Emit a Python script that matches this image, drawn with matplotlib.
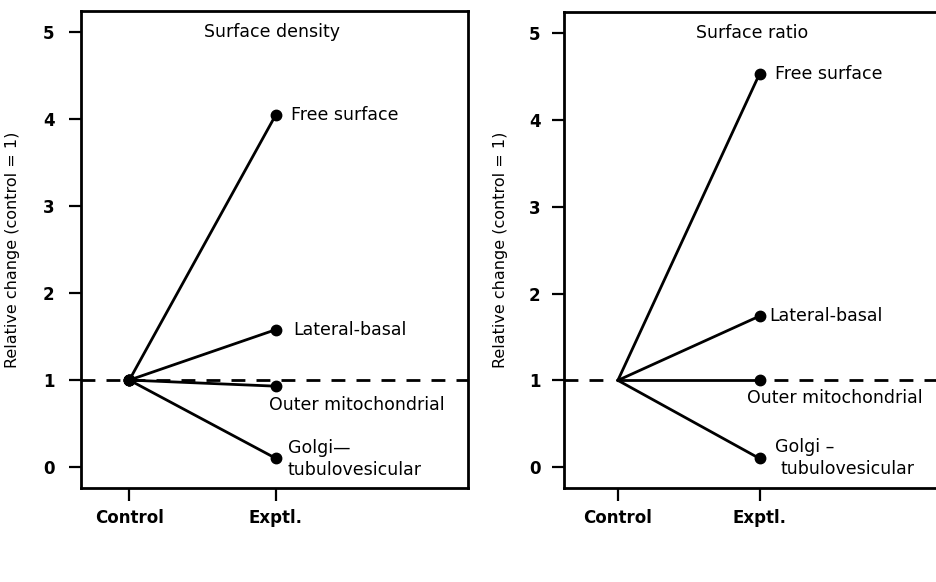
import matplotlib.pyplot as plt

plt.rcParams['font.family'] = ['DejaVu Sans']

# x positions of the two groups
groups = ['Control', 'Exptl.']
group_x = [0, 1]

# relative change (control = 1) in the experimental group
labels = ['Free surface', 'Lateral-basal', 'Outer mitochondrial', 'Golgi-tubulovesicular']
density = [4.05, 1.58, 0.93, 0.10]
ratio = [4.53, 1.74, 1.00, 0.10]

yticks = [0, 1, 2, 3, 4, 5]

fig = plt.figure(figsize=(9.37, 5.82), dpi=100)
ax1 = fig.add_axes([0.0864, 0.1615, 0.413, 0.8195])
ax2 = fig.add_axes([0.602, 0.1615, 0.4066, 0.8175])

lw = 2.0
fs = 12.5


def setup(ax, xlim, ylab_x, ypad):
    ax.set_xlim(xlim)
    ax.set_ylim(-0.24, 5.24)
    ax.set_yticks(yticks)
    ax.set_yticklabels([str(t) for t in yticks], fontsize=12, fontweight='bold')
    ax.set_xticks(group_x)
    ax.set_xticklabels(groups, fontsize=12, fontweight='bold')
    ax.tick_params(direction='out', length=9, width=1.6, pad=6)
    ax.tick_params(axis='y', pad=ypad)
    for s in ax.spines.values():
        s.set_linewidth(2.0)
    ax.set_ylabel('Relative change (control = 1)', fontsize=11.5)
    ax.yaxis.set_label_coords(ylab_x, 0.5)


# left panel: surface density
setup(ax1, (-0.33, 2.31), -0.158, 10)
ax1.plot([-0.33, 2.31], [1, 1], color='black', lw=lw, ls=(0, (5, 4)))
for v in density:
    ax1.plot(group_x, [1, v], color='black', lw=lw, marker='o', markersize=7.5)
ax1.text(0.97, 5.0, 'Surface density', fontsize=fs, ha='center', va='center')
ax1.text(1.10, density[0], labels[0], fontsize=fs, va='center')
ax1.text(1.12, density[1], labels[1], fontsize=fs, va='center')
ax1.text(0.95, 0.71, labels[2], fontsize=fs, va='center')
ax1.text(1.08, 0.22, 'Golgi\u2014', fontsize=fs, va='center')
ax1.text(1.08, -0.03, 'tubulovesicular', fontsize=fs, va='center')

# right panel: surface ratio
setup(ax2, (-0.38, 2.31), -0.147, 8)
ax2.plot([-0.38, -0.1], [1, 1], color='black', lw=lw, ls=(0, (5, 4)))
ax2.plot([1.1, 2.31], [1, 1], color='black', lw=lw, ls=(0, (5, 4)))
for v in ratio:
    ax2.plot(group_x, [1, v], color='black', lw=lw)
    ax2.plot([group_x[1]], [v], color='black', marker='o', markersize=7.5)
ax2.text(0.95, 5.0, 'Surface ratio', fontsize=fs, ha='center', va='center')
ax2.text(1.11, ratio[0], labels[0], fontsize=fs, va='center')
ax2.text(1.07, ratio[1], labels[1], fontsize=fs, va='center')
ax2.text(0.91, 0.80, labels[2], fontsize=fs, va='center')
ax2.text(1.11, 0.23, 'Golgi \u2013', fontsize=fs, va='center')
ax2.text(1.15, -0.02, 'tubulovesicular', fontsize=fs, va='center')

fig.savefig('out.png', dpi=100)
